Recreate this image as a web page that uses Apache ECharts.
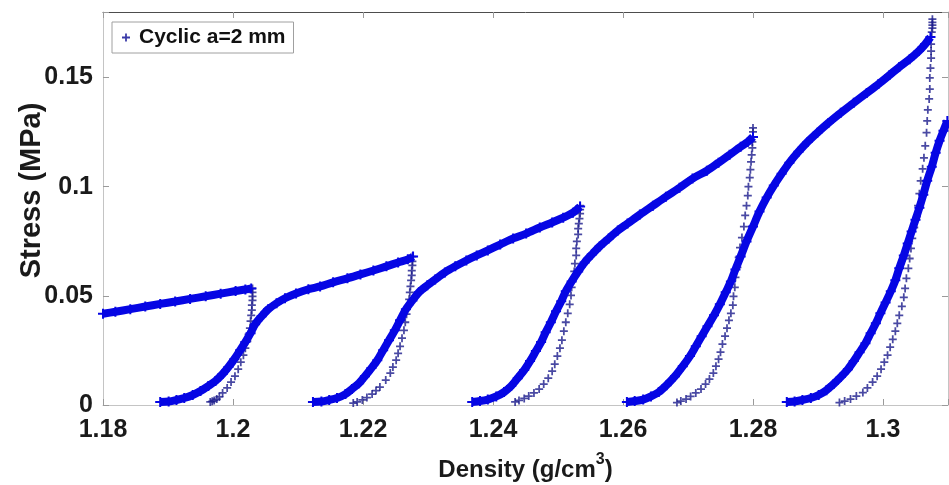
<!DOCTYPE html>
<html>
<head>
<meta charset="utf-8">
<script src="https://cdn.jsdelivr.net/npm/echarts@6.0.0/dist/echarts.min.js"></script>
<style>
  html, body { margin: 0; padding: 0; background: #ffffff; }
  #chart { width: 949px; height: 485px; }
</style>
</head>
<body>
<div id="chart"></div>
<script>
// Cyclic compaction test, die radius a = 2 mm: [density g/cm3, stress MPa]
const seriesName = 'Cyclic a=2 mm';

// loading branches (dense sampling)
const load1 = [[1.18,0.0418],[1.1819,0.0427],[1.1842,0.0439],[1.1865,0.0451],[1.1888,0.0463],[1.1911,0.0474],[1.1934,0.0486],[1.1958,0.0498],[1.1981,0.051],[1.2004,0.0522],[1.2019,0.0529],[1.2028,0.0534]];
const load2 = [[1.1888,0.0014],[1.1901,0.0016],[1.1913,0.0023],[1.1925,0.0032],[1.1938,0.0046],[1.195,0.0064],[1.1962,0.0087],[1.1973,0.011],[1.1984,0.0142],[1.1993,0.0174],[1.2002,0.021],[1.2011,0.0251],[1.2019,0.0288],[1.2027,0.0329],[1.2034,0.037],[1.2044,0.0406],[1.2054,0.0438],[1.2067,0.0466],[1.208,0.0489],[1.2097,0.0511],[1.2116,0.053],[1.2134,0.0543],[1.2154,0.0562],[1.2176,0.058],[1.2196,0.0598],[1.2216,0.0616],[1.2236,0.0635],[1.2254,0.0653],[1.2269,0.0667],[1.2277,0.068]];
const load3 = [[1.2123,0.0014],[1.2136,0.0016],[1.2148,0.0023],[1.216,0.0032],[1.2173,0.005],[1.2183,0.0073],[1.2194,0.01],[1.2203,0.0132],[1.2213,0.0169],[1.2222,0.0205],[1.2231,0.0251],[1.224,0.0297],[1.2249,0.0342],[1.2257,0.0388],[1.2266,0.0438],[1.2276,0.0479],[1.2286,0.0516],[1.2299,0.0548],[1.2311,0.0575],[1.2326,0.0607],[1.2342,0.0635],[1.2359,0.0662],[1.2375,0.0685],[1.2392,0.0708],[1.2411,0.0735],[1.2431,0.0763],[1.2451,0.0785],[1.2472,0.0813],[1.2491,0.0836],[1.2508,0.0858],[1.2523,0.0881],[1.2534,0.0909]];
const load4 = [[1.2368,0.0014],[1.238,0.0018],[1.2392,0.0025],[1.2405,0.0039],[1.2417,0.0059],[1.2428,0.0087],[1.2438,0.0123],[1.2448,0.016],[1.2457,0.0201],[1.2466,0.0247],[1.2474,0.0288],[1.2481,0.0333],[1.2489,0.0379],[1.2497,0.0429],[1.2505,0.0475],[1.2512,0.0521],[1.2521,0.0566],[1.2531,0.0612],[1.2541,0.0653],[1.2552,0.0689],[1.2564,0.0726],[1.2578,0.0763],[1.2592,0.0799],[1.2607,0.0831],[1.2626,0.0872],[1.2646,0.0913],[1.2666,0.0954],[1.2687,0.0995],[1.2707,0.1037],[1.2729,0.1073],[1.2747,0.111],[1.2764,0.1146],[1.2781,0.1183],[1.2792,0.1205],[1.28,0.1228]];
const load5 = [[1.2606,0.0014],[1.2618,0.0018],[1.2631,0.0025],[1.2643,0.0039],[1.2655,0.0059],[1.2667,0.0091],[1.268,0.0132],[1.2692,0.0178],[1.2703,0.0224],[1.2712,0.0269],[1.2721,0.0315],[1.273,0.0361],[1.274,0.0411],[1.2749,0.0461],[1.2758,0.0516],[1.2766,0.0566],[1.2773,0.0621],[1.2781,0.068],[1.279,0.0749],[1.28,0.0817],[1.281,0.0886],[1.2821,0.095],[1.2832,0.1005],[1.2844,0.1059],[1.2856,0.111],[1.287,0.116],[1.2884,0.1205],[1.2899,0.1247],[1.2916,0.1292],[1.2935,0.1338],[1.2955,0.1384],[1.2975,0.1429],[1.2993,0.147],[1.301,0.1511],[1.3025,0.1548],[1.3041,0.1584],[1.3055,0.1621],[1.3065,0.1653],[1.3073,0.1685]];
const load6 = [[1.2852,0.0014],[1.2864,0.0016],[1.2876,0.0023],[1.2889,0.0032],[1.2901,0.0046],[1.2913,0.0068],[1.2924,0.0096],[1.2935,0.0128],[1.2946,0.0164],[1.2955,0.0201],[1.2964,0.0242],[1.2973,0.0283],[1.2981,0.0329],[1.2989,0.0374],[1.2996,0.042],[1.3004,0.047],[1.3012,0.0521],[1.3019,0.0571],[1.3025,0.0626],[1.3032,0.0685],[1.3038,0.074],[1.3044,0.0795],[1.305,0.0849],[1.3056,0.0904],[1.3062,0.0963],[1.3068,0.1027],[1.3075,0.1091],[1.3081,0.1155],[1.3087,0.121],[1.3093,0.1256],[1.3099,0.1301]];

// unloading branches (sparse sampling)
const unload1 = [[1.203,0.0534],[1.203,0.0516],[1.203,0.0498],[1.203,0.0479],[1.2029,0.0457],[1.2029,0.0434],[1.2028,0.0411],[1.2027,0.0384],[1.2026,0.0352],[1.2024,0.0324],[1.2022,0.0292],[1.2019,0.026],[1.2016,0.0228],[1.2012,0.0196],[1.2008,0.0164],[1.2003,0.0132],[1.1997,0.0105],[1.1991,0.0078],[1.1984,0.0055],[1.1979,0.0037],[1.1975,0.0027],[1.1971,0.0021],[1.1968,0.0017],[1.1965,0.0014]];
const unload2 = [[1.2276,0.068],[1.2276,0.0658],[1.2276,0.0639],[1.2275,0.0616],[1.2275,0.0594],[1.2274,0.0571],[1.2273,0.0543],[1.2272,0.0516],[1.2271,0.0484],[1.2269,0.0452],[1.2267,0.0416],[1.2265,0.0379],[1.2263,0.0342],[1.226,0.0306],[1.2257,0.0269],[1.2254,0.0237],[1.2251,0.0205],[1.2246,0.0174],[1.2242,0.0146],[1.2235,0.0114],[1.2226,0.0082],[1.222,0.0066],[1.2214,0.005],[1.2206,0.0034],[1.2199,0.0023],[1.2191,0.0014],[1.2185,0.0009]];
const unload3 = [[1.2534,0.0913],[1.2534,0.0895],[1.2534,0.0877],[1.2533,0.0854],[1.2532,0.0831],[1.2531,0.0808],[1.2531,0.0781],[1.2529,0.0749],[1.2528,0.0717],[1.2528,0.0685],[1.2526,0.0648],[1.2525,0.0612],[1.2523,0.0575],[1.2521,0.0539],[1.252,0.0502],[1.2518,0.0461],[1.2515,0.042],[1.2512,0.0379],[1.2509,0.0338],[1.2506,0.0297],[1.2503,0.026],[1.2499,0.0224],[1.2495,0.0187],[1.2491,0.0155],[1.2485,0.0123],[1.2478,0.0096],[1.2471,0.0073],[1.2463,0.0055],[1.2455,0.0041],[1.2448,0.003],[1.244,0.0021],[1.2434,0.0014]];
const unload4 = [[1.28,0.1269],[1.28,0.1251],[1.28,0.1228],[1.2799,0.1205],[1.2799,0.1178],[1.2798,0.1146],[1.2797,0.1114],[1.2796,0.1078],[1.2795,0.1041],[1.2793,0.1],[1.2792,0.0959],[1.279,0.0913],[1.2788,0.0868],[1.2786,0.0817],[1.2783,0.0767],[1.278,0.0721],[1.2778,0.0676],[1.2776,0.063],[1.2773,0.0584],[1.2772,0.0539],[1.277,0.0498],[1.2769,0.0457],[1.2766,0.042],[1.2763,0.0388],[1.276,0.0352],[1.2757,0.0315],[1.2753,0.0279],[1.275,0.0242],[1.2747,0.021],[1.2743,0.0178],[1.2739,0.0146],[1.2733,0.0119],[1.2727,0.0096],[1.272,0.0073],[1.2712,0.0055],[1.2704,0.0039],[1.2697,0.0027],[1.2689,0.0018],[1.2683,0.0011]];
const unload5 = [[1.3076,0.1767],[1.3076,0.1753],[1.3076,0.174],[1.3076,0.1726],[1.3075,0.1708],[1.3074,0.1685],[1.3074,0.1653],[1.3074,0.1621],[1.3074,0.1589],[1.3073,0.1543],[1.3072,0.1498],[1.3072,0.1447],[1.3071,0.1402],[1.3069,0.1352],[1.3068,0.1301],[1.3067,0.1247],[1.3065,0.1187],[1.3063,0.1132],[1.3061,0.1082],[1.3058,0.1027],[1.3056,0.0968],[1.3054,0.0913],[1.3052,0.0863],[1.3048,0.0813],[1.3045,0.0763],[1.3043,0.0717],[1.3041,0.0671],[1.3039,0.0626],[1.3036,0.058],[1.3034,0.0534],[1.3032,0.0493],[1.3029,0.0452],[1.3025,0.0411],[1.3022,0.0374],[1.3019,0.0338],[1.3015,0.0301],[1.3011,0.0265],[1.3007,0.0228],[1.3002,0.0196],[1.2997,0.0164],[1.2991,0.0132],[1.2984,0.0105],[1.2976,0.0078],[1.2969,0.0057],[1.2959,0.0041],[1.295,0.0027],[1.2941,0.0018],[1.2933,0.0011]];

// axis ranges and tick spacing
const densityMin = 1.18, densityMax = 1.31, densityStep = 0.02;
const stressMin = 0, stressMax = 0.18, stressStep = 0.05;

const FONT = '"Liberation Sans", Arial, Helvetica, sans-serif';
const PLUS_BAND = 'path://M4,0h2v10h-2z M0,4h10v2h-10z';
const PLUS_MARK = 'path://M3.9,0h2.2v10h-2.2z M0,3.9h10v2.2h-10z';
const BAND_COLOR = '#0606e4';
const MARK_COLOR = '#1c1c8c';

const loadings = [load1, load2, load3, load4, load5, load6];
const unloadings = [unload1, unload2, unload3, unload4, unload5];

const series = [];
loadings.forEach(function (pts, i) {
  series.push({
    name: seriesName, type: 'line', data: pts, smooth: 0.3,
    symbol: PLUS_BAND, symbolSize: 10, showSymbol: true,
    lineStyle: { color: BAND_COLOR, width: 8 },
    itemStyle: { color: BAND_COLOR },
    silent: true, emphasis: { disabled: true }
  });
  if (unloadings[i]) {
    series.push({
      name: seriesName, type: 'scatter', data: unloadings[i],
      symbol: PLUS_MARK, symbolSize: 8,
      itemStyle: { color: MARK_COLOR },
      silent: true, emphasis: { disabled: true }
    });
  }
});

function tickText(max) {
  return function (v) {
    if (Math.abs(v - max) < 1e-9) return '';
    return String(+v.toFixed(3));
  };
}

const tickLabelStyle = { fontFamily: FONT, fontWeight: 'bold', fontSize: 25, color: '#1a1a1a' };

const option = {
  animation: false,
  backgroundColor: '#ffffff',
  grid: { left: 103, right: 1, top: 12, bottom: 80, containLabel: false, outerBoundsMode: 'none' },
  legend: {
    left: 112, top: 22,
    data: [{ name: seriesName, icon: PLUS_MARK, itemStyle: { color: '#3a3aa8' } }],
    itemWidth: 16, itemHeight: 8,
    padding: [5, 8, 5, 10],
    borderColor: '#a0a0a0', borderWidth: 1, backgroundColor: '#ffffff',
    selectedMode: false,
    textStyle: { fontFamily: FONT, fontWeight: 'bold', fontSize: 21, color: '#111111' }
  },
  xAxis: [{
    type: 'value', position: 'bottom',
    min: densityMin, max: densityMax, interval: densityStep,
    name: '{t|Density (g/cm}{s|3}{t|)}', nameLocation: 'middle', nameGap: 47,
    nameMoveOverlap: false,
    nameTextStyle: {
      fontFamily: FONT, fontWeight: 'bold', fontSize: 24, color: '#1a1a1a',
      rich: {
        t: { fontFamily: FONT, fontWeight: 'bold', fontSize: 24, color: '#1a1a1a', lineHeight: 30, verticalAlign: 'bottom' },
        s: { fontFamily: FONT, fontWeight: 'bold', fontSize: 16, color: '#1a1a1a', lineHeight: 30, verticalAlign: 'top' }
      }
    },
    axisLine: { onZero: false, lineStyle: { color: '#c4c4c4', width: 1 } },
    axisTick: { inside: true, length: 6, lineStyle: { color: '#9a9a9a' } },
    axisLabel: Object.assign({ margin: 13, formatter: tickText(densityMax) }, tickLabelStyle),
    splitLine: { show: false }
  }, {
    type: 'value', position: 'top',
    min: densityMin, max: densityMax, interval: densityStep,
    axisLine: { onZero: false, lineStyle: { color: '#4d4d4d', width: 1 } },
    axisTick: { inside: true, length: 6, lineStyle: { color: '#9a9a9a' } },
    axisLabel: { show: false },
    splitLine: { show: false }
  }],
  yAxis: [{
    type: 'value', position: 'left',
    min: stressMin, max: stressMax, interval: stressStep,
    name: 'Stress (MPa)', nameLocation: 'middle', nameGap: 57,
    nameMoveOverlap: false,
    nameTextStyle: { fontFamily: FONT, fontWeight: 'bold', fontSize: 29, color: '#1a1a1a', padding: [0, 0, 0, 36] },
    axisLine: { onZero: false, lineStyle: { color: '#c4c4c4', width: 1 } },
    axisTick: { inside: true, length: 6, lineStyle: { color: '#9a9a9a' } },
    axisLabel: Object.assign({ margin: 10, formatter: tickText(stressMax) }, tickLabelStyle),
    splitLine: { show: false }
  }, {
    type: 'value', position: 'right',
    min: stressMin, max: stressMax, interval: stressStep,
    axisLine: { onZero: false, lineStyle: { color: '#c4c4c4', width: 1 } },
    axisTick: { inside: true, length: 6, lineStyle: { color: '#9a9a9a' } },
    axisLabel: { show: false },
    splitLine: { show: false }
  }],
  series: series
};

const chart = echarts.init(document.getElementById('chart'));
chart.setOption(option);
</script>
</body>
</html>
